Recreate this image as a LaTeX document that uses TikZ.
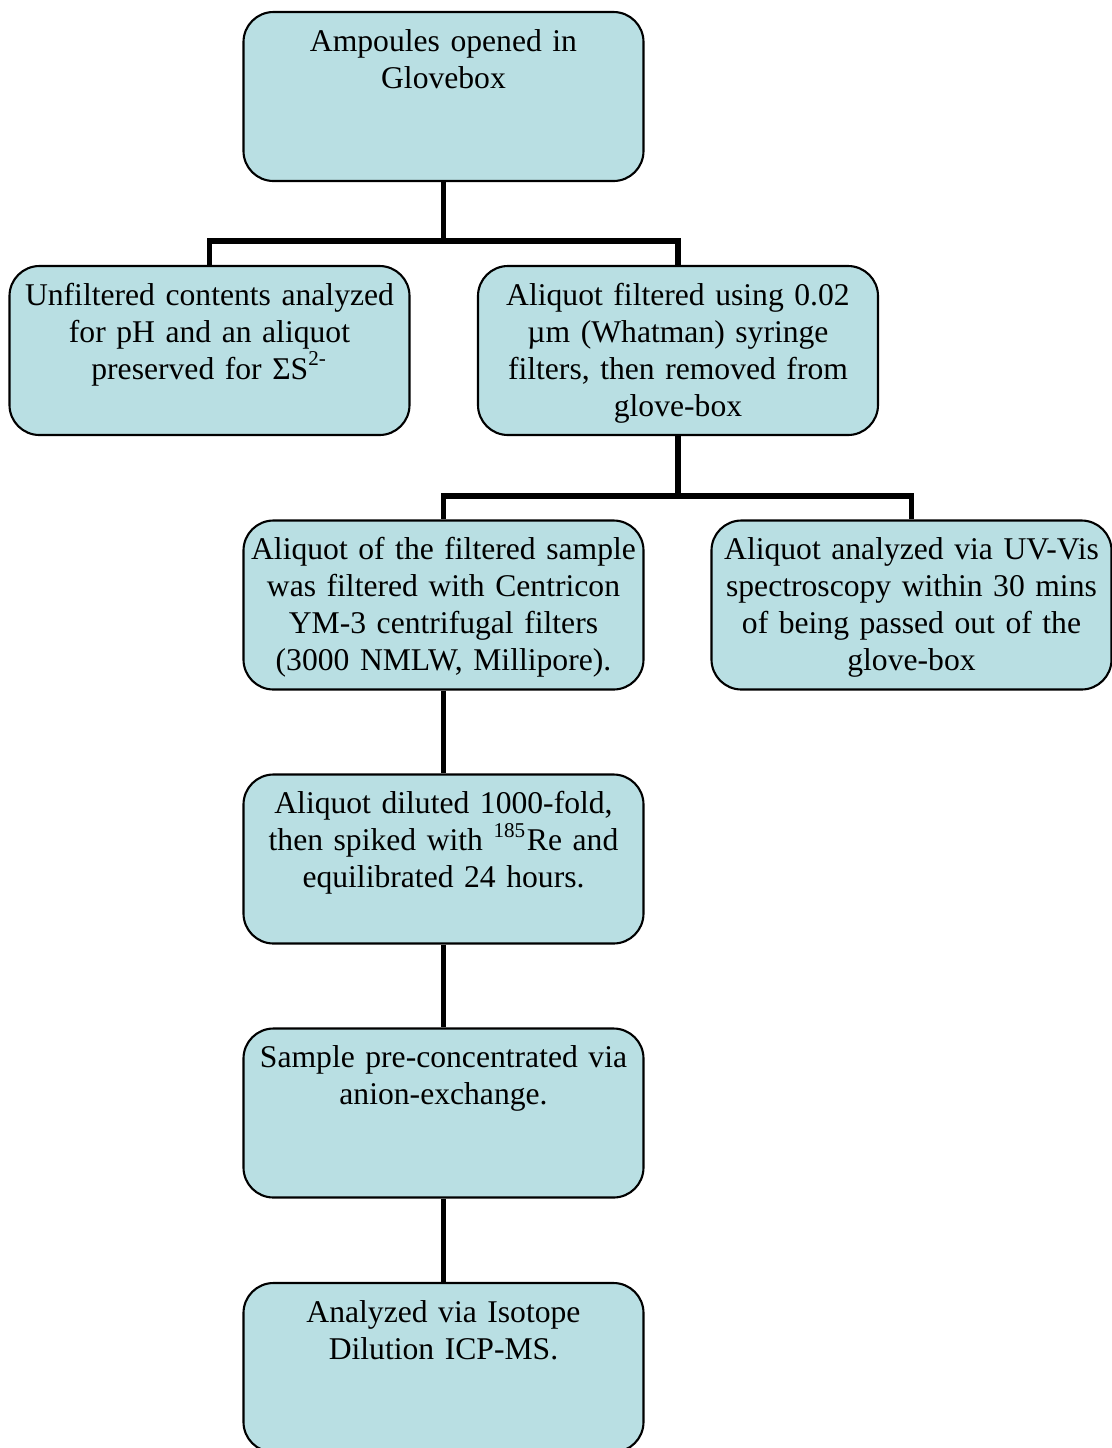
\documentclass[tikz,border=0pt]{standalone}
\usepackage{fontspec}
\setmainfont{Liberation Serif}
\definecolor{boxfill}{HTML}{B9DFE3}
\begin{document}
\begin{tikzpicture}[
  stagebox/.style={draw=black, line width=0.6pt, fill=boxfill, rounded corners=0.3cm,
    minimum width=4.0cm, minimum height=1.69cm, inner sep=0pt},
  stagetext/.style={anchor=north, inner sep=0pt, align=center, text width=3.98cm,
    font=\fontsize{9pt}{10.5pt}\selectfont},
  link/.style={line width=1.6pt, draw=black}
]
\useasboundingbox (0,0) rectangle (11.12,-14.48);

\node[stagebox] (top) at (4.435,-0.965) {};
\node[stagebox] (left) at (2.095,-3.505) {};
\node[stagebox] (right) at (6.78,-3.505) {};
\node[stagebox] (midleft) at (4.435,-6.05) {};
\node[stagebox] (midright) at (9.115,-6.05) {};
\node[stagebox] (dil) at (4.435,-8.59) {};
\node[stagebox] (pre) at (4.435,-11.13) {};
\node[stagebox] (icp) at (4.435,-13.675) {};

\node[stagetext] (topT) at ([yshift=-0.175cm]top.north) {Ampoules opened in\\Glovebox};
\node[stagetext] (leftT) at ([yshift=-0.175cm]left.north) {Unfiltered contents analyzed\\for pH and an aliquot\\preserved for ΣS\textsuperscript{2-}};
\node[stagetext] (rightT) at ([yshift=-0.175cm]right.north) {Aliquot filtered using 0.02\\µm (Whatman) syringe\\filters, then removed from\\glove-box};
\node[stagetext] (midleftT) at ([yshift=-0.175cm]midleft.north) {Aliquot of the filtered sample\\was filtered with Centricon\\YM-3 centrifugal filters\\(3000 NMLW, Millipore).};
\node[stagetext] (midrightT) at ([yshift=-0.175cm]midright.north) {Aliquot analyzed via UV-Vis\\spectroscopy within 30 mins\\of being passed out of the\\glove-box};
\node[stagetext] (dilT) at ([yshift=-0.175cm]dil.north) {Aliquot diluted 1000-fold,\\then spiked with \textsuperscript{185}Re and\\equilibrated 24 hours.};
\node[stagetext] (preT) at ([yshift=-0.175cm]pre.north) {Sample pre-concentrated via\\anion-exchange.};
\node[stagetext] (icpT) at ([yshift=-0.175cm]icp.north) {Analyzed via Isotope\\Dilution ICP-MS.};

\draw[link] (top.south) -- ++(0,-0.59) coordinate (bus1) -| (left.north);
\draw[link] (bus1) -| (right.north);
\draw[link] (right.south) -- ++(0,-0.60) coordinate (bus2) -| (midleft.north);
\draw[link] (bus2) -| (midright.north);
\draw[link] (midleft.south) -- (dil.north);
\draw[link] (dil.south) -- (pre.north);
\draw[link] (pre.south) -- (icp.north);
\end{tikzpicture}
\end{document}
